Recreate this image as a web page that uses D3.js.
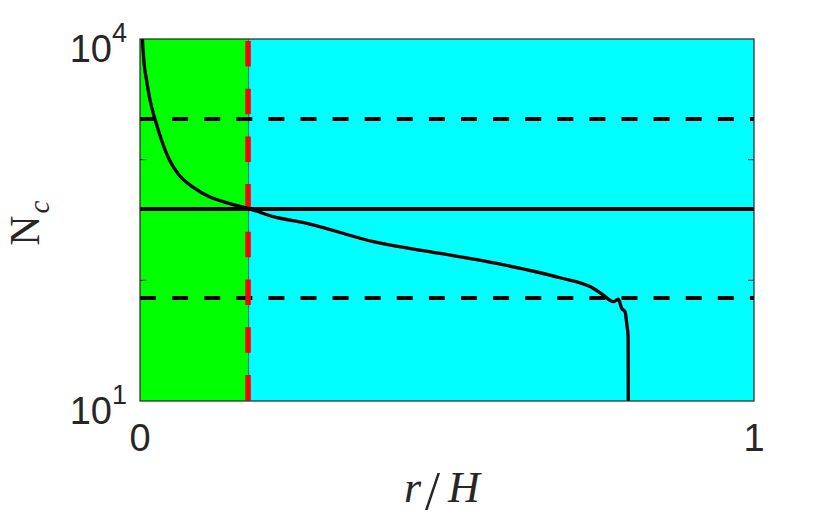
<!DOCTYPE html>
<html><head><meta charset="utf-8">
<script src="https://cdn.jsdelivr.net/npm/d3@7"></script>
<style>body{margin:0;background:#fff;}svg{display:block;}</style>
</head><body>
<svg id="chart" width="833" height="521"></svg>
<script>
// ---- data ----
const rValues  = [0.003, 0.004, 0.0065, 0.0106, 0.0163, 0.0244, 0.0350, 0.0480, 0.0635, 0.0863, 0.1140, 0.1433, 0.1760, 0.2171, 0.2715, 0.380, 0.4886, 0.581, 0.684, 0.738, 0.7546, 0.771, 0.779, 0.7845, 0.790, 0.7927, 0.7950, 0.7953];
const ncValues = [13500, 10000, 6440, 4570, 3120, 2170, 1455, 993, 746, 593, 490, 437, 395, 337, 297, 209, 167, 138, 105, 86, 75.5, 66.5, 69.7, 58.6, 55, 44, 34, 8];
const solidLevel = [390];
const dashedLevels = [2170, 71.4];
const boundaryR = [0.176];
const xDomain = [0, 1];
const yDomain = [10, 10000];
const xTickValues = [0, 1];
const yLabelExps = [1, 4];
const yMinorTicks = [100, 1000];

// ---- layout ----
const svg = d3.select("#chart");
const m = {left:140, right:79, top:39, bottom:120};
const W = 833 - m.left - m.right, H = 521 - m.top - m.bottom;
const x = d3.scaleLinear().domain(xDomain).range([m.left, m.left + W]);
const y = d3.scaleLog().domain(yDomain).range([m.top + H, m.top]);
const ink = "#262626";

svg.append("defs").append("clipPath").attr("id","clip")
  .append("rect").attr("x", m.left).attr("y", m.top).attr("width", W).attr("height", H);

const plot = svg.append("g").attr("clip-path","url(#clip)");
// regions
plot.append("rect").attr("x", x(xDomain[0])).attr("y", m.top)
  .attr("width", x(boundaryR[0]) - x(xDomain[0])).attr("height", H).attr("fill", "#00ff00");
plot.append("rect").attr("x", x(boundaryR[0])).attr("y", m.top)
  .attr("width", x(xDomain[1]) - x(boundaryR[0])).attr("height", H).attr("fill", "#00ffff");
plot.append("line").attr("x1", x(boundaryR[0]) + 0.5).attr("x2", x(boundaryR[0]) + 0.5)
  .attr("y1", m.top).attr("y2", m.top + H).attr("stroke", "#1f7f7f").attr("stroke-width", 1.2);

// horizontal levels
plot.selectAll(".dash").data(dashedLevels).join("line")
  .attr("x1", x(0)).attr("x2", x(1)).attr("y1", d => y(d)).attr("y2", d => y(d))
  .attr("stroke", "#000").attr("stroke-width", 4).attr("stroke-dasharray", "16,16.1");
plot.selectAll(".solid").data(solidLevel).join("line")
  .attr("x1", x(0)).attr("x2", x(1)).attr("y1", d => y(d)).attr("y2", d => y(d))
  .attr("stroke", "#000").attr("stroke-width", 4.2);

// red dashed boundary
plot.selectAll(".bnd").data(boundaryR).join("line")
  .attr("x1", d => x(d)).attr("x2", d => x(d)).attr("y1", y(yDomain[1])).attr("y2", y(yDomain[0]))
  .attr("stroke", "#ff0000").attr("stroke-width", 5.5)
  .attr("stroke-dasharray", "25.5,22.2").attr("stroke-dashoffset", 45.7);

// curve
const line = d3.line().x((d,i) => x(rValues[i])).y((d,i) => y(ncValues[i])).curve(d3.curveMonotoneX);
plot.append("path").datum(rValues).attr("d", line)
  .attr("fill","none").attr("stroke","#000").attr("stroke-width",3.3).attr("stroke-linejoin","round");

// axes box
svg.append("rect").attr("x", m.left).attr("y", m.top).attr("width", W).attr("height", H)
  .attr("fill","none").attr("stroke", ink).attr("stroke-width", 1.2);
// minor ticks left & right
svg.selectAll(".tl").data(yMinorTicks).join("line")
  .attr("x1", m.left).attr("x2", m.left + 6).attr("y1", d => y(d)).attr("y2", d => y(d))
  .attr("stroke", ink).attr("stroke-width", 1);
svg.selectAll(".tr").data(yMinorTicks).join("line")
  .attr("x1", m.left + W).attr("x2", m.left + W - 6).attr("y1", d => y(d)).attr("y2", d => y(d))
  .attr("stroke", ink).attr("stroke-width", 1);

// y tick labels
const fs = 38;
yLabelExps.forEach(e => {
  const t = svg.append("text").attr("x", m.left - 13).attr("y", y(Math.pow(10, e)) + 23)
    .attr("text-anchor","end").attr("fill", ink)
    .style("font-family","'Liberation Sans', Arial, sans-serif").style("font-size", fs + "px");
  t.append("tspan").text("10");
  t.append("tspan").attr("dy", -20).style("font-size", "27px").text(e);
});
// x tick labels
svg.selectAll(".xt").data(xTickValues).join("text")
  .attr("x", d => x(d)).attr("y", m.top + H + 50).attr("text-anchor","middle").attr("fill", ink)
  .style("font-family","'Liberation Sans', Arial, sans-serif").style("font-size", fs + "px")
  .text(d => d);

// axis titles
const serif = "'Liberation Serif', 'DejaVu Serif', serif";
const xlBase = m.top + H + 101;
svg.append("text").attr("x", x(0.5) - 43).attr("y", xlBase).attr("fill", ink)
  .style("font-family", serif).style("font-size","44px").style("font-style","italic").text("r");
svg.append("text").attr("x", x(0.5) - 22).attr("y", xlBase + 7).attr("fill", ink)
  .style("font-family", serif).style("font-size","54px").text("/");
svg.append("text").attr("x", x(0.5) + 1).attr("y", xlBase).attr("fill", ink)
  .style("font-family", serif).style("font-size","44px").style("font-style","italic").text("H");

const yl = svg.append("text").attr("transform", `translate(39, ${y(300) + 23}) rotate(-90)`)
  .attr("text-anchor","start").attr("fill", ink)
  .style("font-family", serif).style("font-size","42px");
yl.append("tspan").text("N");
yl.append("tspan").attr("dy", 10).attr("dx", 2).style("font-size","29px").style("font-style","italic").text("c");
</script>
</body></html>
